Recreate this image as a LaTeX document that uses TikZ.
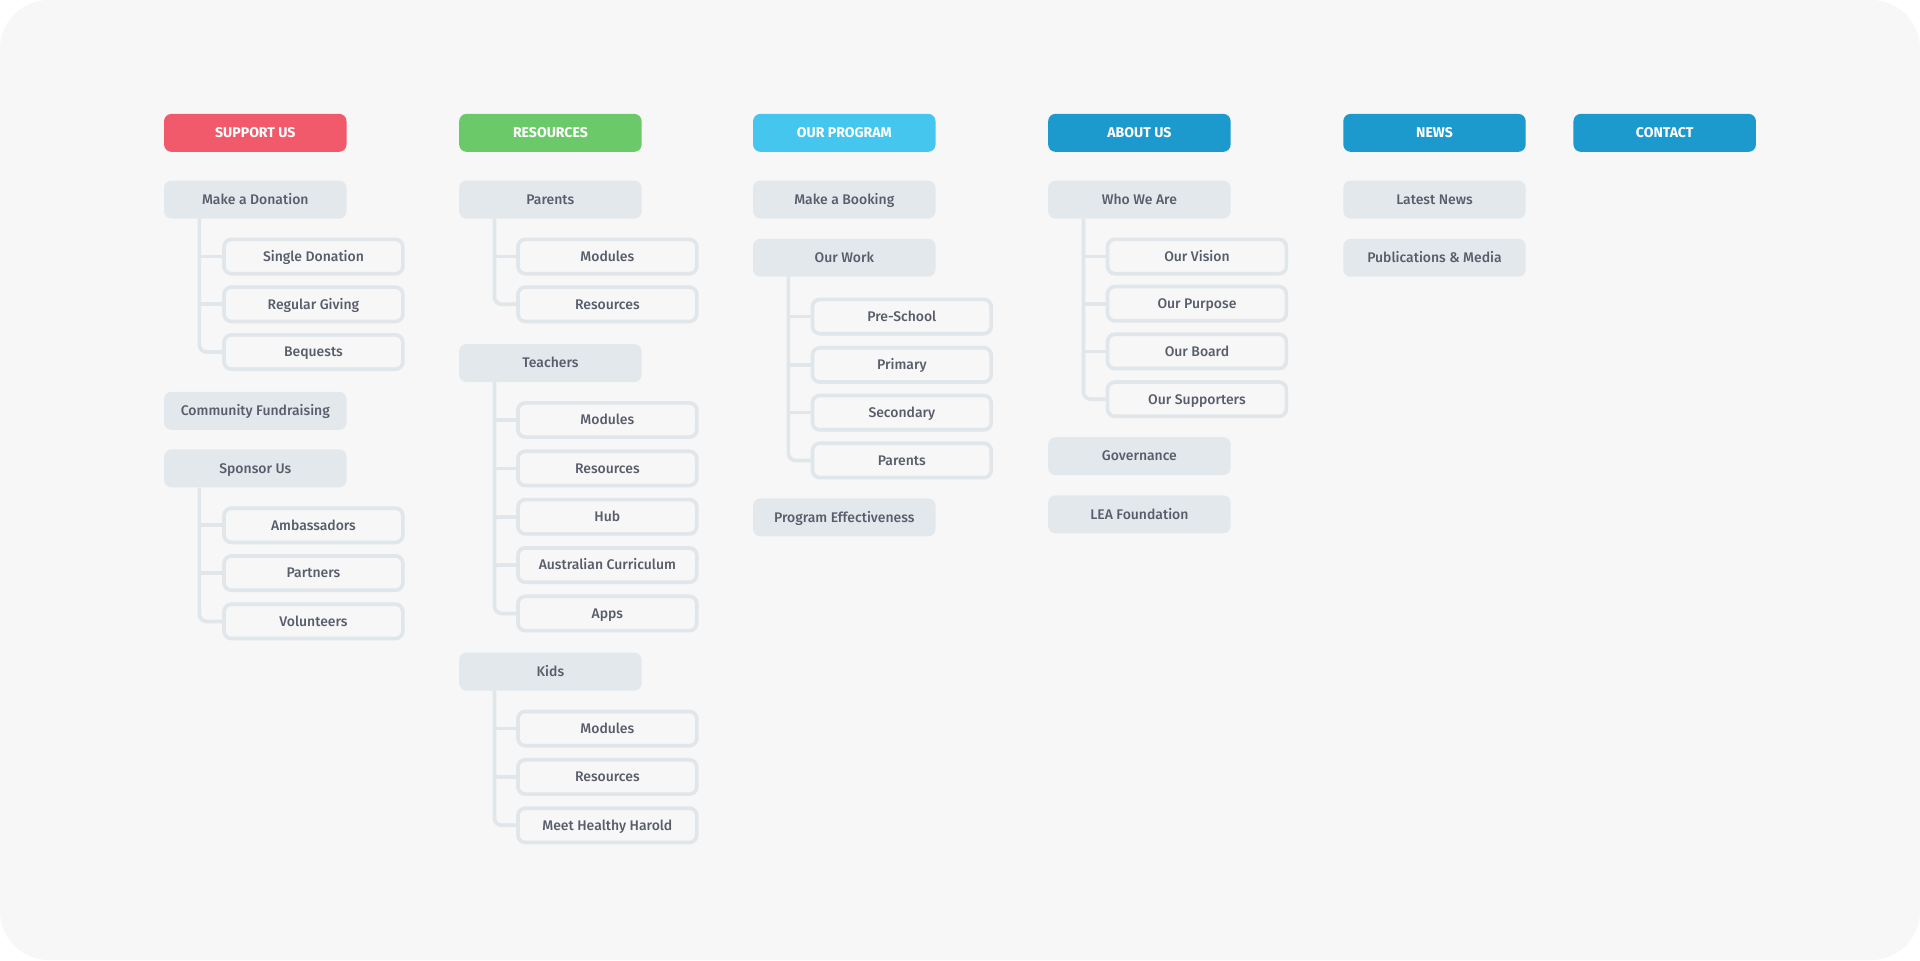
\documentclass[tikz,border=0pt]{standalone}
\usepackage{fontspec}
\IfFontExistsTF{Fira Sans Medium}
  {\setmainfont{Fira Sans Medium}[BoldFont={Fira Sans Bold}]}
  {\setmainfont{Fira Sans}}
\usetikzlibrary{positioning}

\definecolor{bgc}{HTML}{F7F7F7}
\definecolor{txc}{HTML}{585D6B}
\definecolor{pac}{HTML}{E3E8EC}
\definecolor{lnc}{HTML}{E0E6EA}
\definecolor{rdc}{HTML}{F15A6A}
\definecolor{grc}{HTML}{6CC96A}
\definecolor{lbc}{HTML}{44C6EF}
\definecolor{blc}{HTML}{1C99CD}

\begin{document}
\begin{tikzpicture}[
    x=1pt, y=-1pt,
    hd/.style={
        fill=#1,
        text=white,
        font=\bfseries\fontsize{11.5}{13}\selectfont,
        text height=8.2pt,
        text depth=0.3pt,
        minimum width=149pt,
        minimum height=31pt,
        inner sep=0pt,
        rounded corners=6pt,
    },
    pa/.style={
        fill=pac,
        text=txc,
        font=\fontsize{11.4}{13}\selectfont,
        text height=8.4pt,
        text depth=0.5pt,
        minimum width=149pt,
        minimum height=31pt,
        inner sep=0pt,
        rounded corners=6pt,
    },
    ch/.style={pa,
        fill=bgc,
        draw=lnc,
        line width=3pt,
        minimum width=146pt,
        minimum height=28pt,
    },
    tr/.style={draw=lnc, line width=3pt, rounded corners=6pt},
]
    \fill[white] (0,0) rectangle (1568,784);
    \fill[bgc, rounded corners=40pt] (0,0) rectangle (1568,784);
    \useasboundingbox (0,0) rectangle (1568,784);

    % ~~~ headers ~~~~~~~~~~~~
    \node[hd=rdc] (h1) at (208.5,108.5) {SUPPORT US};
    \node[hd=grc] (h2) at (449.5,108.5) {RESOURCES};
    \node[hd=lbc] (h3) at (689.5,108.5) {OUR PROGRAM};
    \node[hd=blc] (h4) at (930.5,108.5) {ABOUT US};
    \node[hd=blc] (h5) at (1171.5,108.5) {NEWS};
    \node[hd=blc] (h6) at (1359.5,108.5) {CONTACT};

    % ~~~ support us ~~~~~~~~~~~~
    \node[pa] (don) at (208.5,163) {Make a Donation};
    \node[ch] (don1) at (256,209.5) {Single Donation};
    \node[ch] (don2) at (256,248.5) {Regular Giving};
    \node[ch] (don3) at (256,287.5) {Bequests};
    \node[pa] (com) at (208.5,335.5) {Community Fundraising};
    \node[pa] (spo) at (208.5,382.5) {Sponsor Us};
    \node[ch] (spo1) at (256,429) {Ambassadors};
    \node[ch] (spo2) at (256,468) {Partners};
    \node[ch] (spo3) at (256,507.5) {Volunteers};

    % ~~~ resources ~~~~~~~~~~~~
    \node[pa] (par) at (449.5,163) {Parents};
    \node[ch] (par1) at (496,209.5) {Modules};
    \node[ch] (par2) at (496,248.5) {Resources};
    \node[pa] (tea) at (449.5,296.5) {Teachers};
    \node[ch] (tea1) at (496,343) {Modules};
    \node[ch] (tea2) at (496,382.5) {Resources};
    \node[ch] (tea3) at (496,422) {Hub};
    \node[ch] (tea4) at (496,461.5) {Australian Curriculum};
    \node[ch] (tea5) at (496,501) {Apps};
    \node[pa] (kid) at (449.5,548.5) {Kids};
    \node[ch] (kid1) at (496,595) {Modules};
    \node[ch] (kid2) at (496,634.5) {Resources};
    \node[ch] (kid3) at (496,674) {Meet Healthy Harold};

    % ~~~ our program ~~~~~~~~~~~~
    \node[pa] (boo) at (689.5,163) {Make a Booking};
    \node[pa] (wor) at (689.5,210.5) {Our Work};
    \node[ch] (wor1) at (736.5,258.5) {Pre-School};
    \node[ch] (wor2) at (736.5,298) {Primary};
    \node[ch] (wor3) at (736.5,337) {Secondary};
    \node[ch] (wor4) at (736.5,376) {Parents};
    \node[pa] (eff) at (689.5,422.5) {Program Effectiveness};

    % ~~~ about us ~~~~~~~~~~~~
    \node[pa] (who) at (930.5,163) {Who We Are};
    \node[ch] (who1) at (977.5,209.5) {Our Vision};
    \node[ch] (who2) at (977.5,248) {Our Purpose};
    \node[ch] (who3) at (977.5,287) {Our Board};
    \node[ch] (who4) at (977.5,326) {Our Supporters};
    \node[pa] (gov) at (930.5,372.5) {Governance};
    \node[pa] (lea) at (930.5,420) {LEA Foundation};

    % ~~~ news ~~~~~~~~~~~~
    \node[pa] (lat) at (1171.5,163) {Latest News};
    \node[pa] (pub) at (1171.5,210.5) {Publications \& Media};

    % ~~~ tree lines: last child rounded, the others straight ~~~~~~~~~
    \foreach \p/\l in {don/don3, spo/spo3, par/par2, tea/tea5, kid/kid3, wor/wor4, who/who4}
        \draw[tr] ([xshift=29pt]\p.south west) |- (\l.west);
    \foreach \p/\c in {don/don1, don/don2, spo/spo1, spo/spo2, par/par1,
                       tea/tea1, tea/tea2, tea/tea3, tea/tea4, kid/kid1, kid/kid2,
                       wor/wor1, wor/wor2, wor/wor3, who/who1, who/who2, who/who3}
        \draw[tr, sharp corners] ([xshift=29pt]\p.south west) |- (\c.west);
\end{tikzpicture}
\end{document}
